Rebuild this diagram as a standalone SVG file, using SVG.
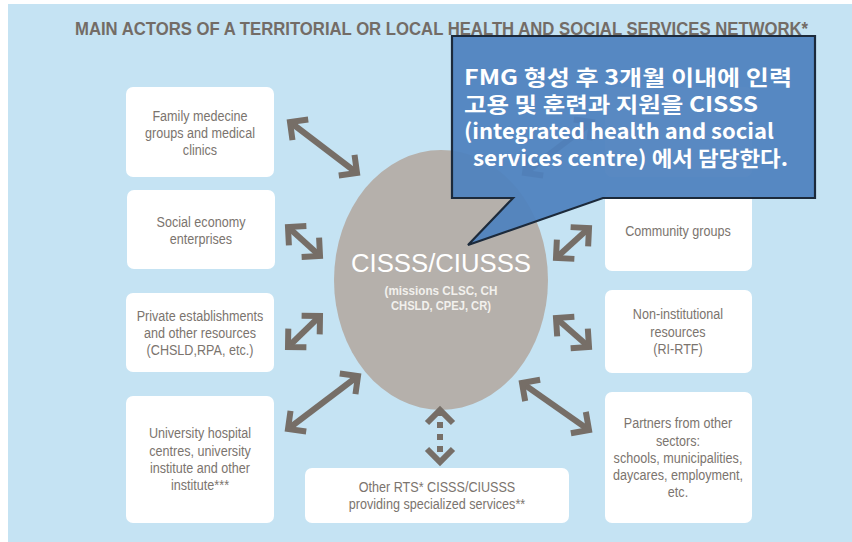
<svg xmlns="http://www.w3.org/2000/svg" width="852" height="542" viewBox="0 0 852 542">
<style>
.bg{fill:#c5e3f3}
.box{fill:#ffffff}
.lbl{font-family:"Liberation Sans",Arial,sans-serif;font-size:15px;fill:#7b746e;text-anchor:middle}
.title{font-family:"Liberation Sans",Arial,sans-serif;font-size:19px;font-weight:bold;fill:#736c66}
.arr{fill:none;stroke:#766e67;stroke-width:6}
.dot{fill:none;stroke:#766e67;stroke-width:6;stroke-dasharray:6 6}
.call{fill:#4f82be;fill-opacity:0.94;stroke:#1c2a3b;stroke-width:2.2;stroke-linejoin:miter}
.ct{font-family:"Noto Sans CJK KR","Noto Sans",sans-serif;font-size:21px;font-weight:bold;fill:#ffffff}
</style>
<defs>
<marker id="chev" markerUnits="userSpaceOnUse" markerWidth="40" markerHeight="40" viewBox="-20 -20 40 40" refX="0" refY="0" orient="auto-start-reverse" overflow="visible">
<path d="M-13,-13 L0,0 L-13,13" fill="none" stroke="#766e67" stroke-width="6" stroke-dasharray="none"/>
</marker>
</defs>
<rect x="0" y="0" width="852" height="542" fill="#ffffff"/>
<rect class="bg" x="8" y="4" width="844" height="538"/>
<text class="title" x="75" y="35" textLength="733" lengthAdjust="spacingAndGlyphs">MAIN ACTORS OF A TERRITORIAL OR LOCAL HEALTH AND SOCIAL SERVICES NETWORK*</text>

<g id="family-medicine">
<rect class="box" x="126" y="87" width="148" height="90" rx="7"/>
<g transform="translate(200 0) scale(0.84 1)">
<text class="lbl" x="0" y="121">Family medecine</text>
<text class="lbl" x="0" y="138">groups and medical</text>
<text class="lbl" x="0" y="155">clinics</text>
</g>
</g>
<g id="social-economy">
<rect class="box" x="127" y="190" width="148" height="79" rx="7"/>
<g transform="translate(201 0) scale(0.84 1)">
<text class="lbl" x="0" y="227">Social economy</text>
<text class="lbl" x="0" y="244">enterprises</text>
</g>
</g>
<g id="private-establishments">
<rect class="box" x="126" y="293" width="148" height="79" rx="7"/>
<g transform="translate(200 0) scale(0.84 1)">
<text class="lbl" x="0" y="321">Private establishments</text>
<text class="lbl" x="0" y="338">and other resources</text>
<text class="lbl" x="0" y="355">(CHSLD,RPA, etc.)</text>
</g>
</g>
<g id="university-hospital">
<rect class="box" x="126" y="396" width="148" height="127" rx="7"/>
<g transform="translate(200 0) scale(0.84 1)">
<text class="lbl" x="0" y="438">University hospital</text>
<text class="lbl" x="0" y="456">centres, university</text>
<text class="lbl" x="0" y="473">institute and other</text>
<text class="lbl" x="0" y="490">institute***</text>
</g>
</g>
<g id="other-rts">
<rect class="box" x="305" y="468" width="264" height="55" rx="7"/>
<g transform="translate(437 0) scale(0.84 1)">
<text class="lbl" x="0" y="492">Other RTS* CISSS/CIUSSS</text>
<text class="lbl" x="0" y="509">providing specialized services**</text>
</g>
</g>
<g id="community-pharmacies">
<rect class="box" x="605" y="87" width="147" height="90" rx="7"/>
</g>
<g id="community-groups">
<rect class="box" x="605" y="190" width="147" height="81" rx="7"/>
<g transform="translate(678 0) scale(0.84 1)">
<text class="lbl" x="0" y="236">Community groups</text>
</g>
</g>
<g id="non-institutional">
<rect class="box" x="605" y="290" width="147" height="83" rx="7"/>
<g transform="translate(678 0) scale(0.84 1)">
<text class="lbl" x="0" y="319">Non-institutional</text>
<text class="lbl" x="0" y="337">resources</text>
<text class="lbl" x="0" y="354">(RI-RTF)</text>
</g>
</g>
<g id="partners">
<rect class="box" x="605" y="392" width="147" height="131" rx="7"/>
<g transform="translate(678 0) scale(0.84 1)">
<text class="lbl" x="0" y="428">Partners from other</text>
<text class="lbl" x="0" y="446">sectors:</text>
<text class="lbl" x="0" y="463">schools, municipalities,</text>
<text class="lbl" x="0" y="480">daycares, employment,</text>
<text class="lbl" x="0" y="497">etc.</text>
</g>
</g>
<g id="cisss">
<ellipse cx="441" cy="280" rx="107" ry="130" fill="#b5b0ab"/>
<text x="441" y="272" text-anchor="middle" font-family="Liberation Sans,Arial,sans-serif" font-size="26" fill="#ffffff" textLength="180" lengthAdjust="spacingAndGlyphs">CISSS/CIUSSS</text>
<text x="441" y="295" text-anchor="middle" font-family="Liberation Sans,Arial,sans-serif" font-size="12.5" font-weight="bold" fill="#f2f0ed" textLength="113" lengthAdjust="spacingAndGlyphs">(missions CLSC, CH</text>
<text x="441" y="310" text-anchor="middle" font-family="Liberation Sans,Arial,sans-serif" font-size="12.5" font-weight="bold" fill="#f2f0ed" textLength="100" lengthAdjust="spacingAndGlyphs">CHSLD, CPEJ, CR)</text>
</g>
<g id="connectors">
<path class="arr" d="M290,122 L357,173" marker-start="url(#chev)" marker-end="url(#chev)"/>
<path class="arr" d="M288,227 L320,256" marker-start="url(#chev)" marker-end="url(#chev)"/>
<path class="arr" d="M320,316 L288,347" marker-start="url(#chev)" marker-end="url(#chev)"/>
<path class="arr" d="M358,376 L288,429" marker-start="url(#chev)" marker-end="url(#chev)"/>
<path class="arr" d="M592,122 L525,173" marker-start="url(#chev)" marker-end="url(#chev)"/>
<path class="arr" d="M589,228 L556,258" marker-start="url(#chev)" marker-end="url(#chev)"/>
<path class="arr" d="M556,318 L589,347" marker-start="url(#chev)" marker-end="url(#chev)"/>
<path class="arr" d="M522,383 L589,430" marker-start="url(#chev)" marker-end="url(#chev)"/>
<path class="dot" d="M440,410 L440,462" marker-start="url(#chev)" marker-end="url(#chev)"/>
</g>
<g id="callout">
<path class="call" d="M452,36 H815 V198 H603 L468,245 L513,198 H452 Z"/>
<text class="ct" x="464" y="85" textLength="328" lengthAdjust="spacingAndGlyphs">FMG 형성 후 3개월 이내에 인력</text>
<text class="ct" x="464" y="112" textLength="294" lengthAdjust="spacingAndGlyphs">고용 및 훈련과 지원을 CISSS</text>
<text class="ct" x="464" y="139" textLength="310" lengthAdjust="spacingAndGlyphs">(integrated health and social</text>
<text class="ct" x="473" y="166" textLength="315" lengthAdjust="spacingAndGlyphs">services centre) 에서 담당한다.</text>
</g>
</svg>
